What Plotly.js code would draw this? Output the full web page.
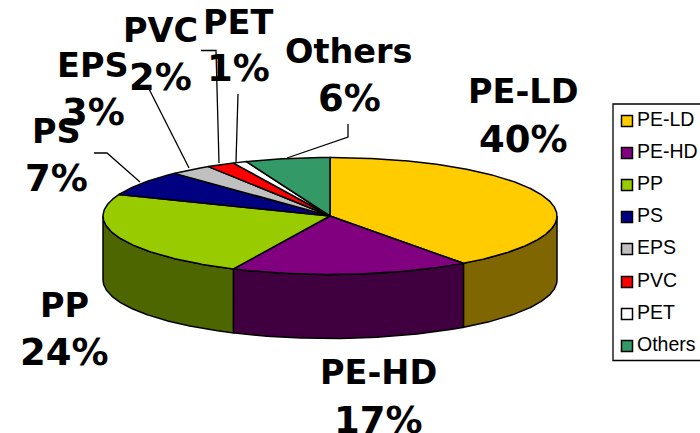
<!DOCTYPE html>
<html><head><meta charset="utf-8">
<script src="https://cdn.plot.ly/plotly-3.0.1.min.js"></script>
<style>html,body{margin:0;padding:0;background:#fff;overflow:hidden}#c{width:700px;height:433px}</style>
</head><body><div id="c"></div>
<script>
const categories = ['PE-LD','PE-HD','PP','PS','EPS','PVC','PET','Others'];
const values = [40,17,24,7,3,2,1,6];
const topColors = ['#FFCC00','#800080','#99CC00','#000080','#C0C0C0','#FF0000','#FFFFFF','#339966'];
const sideColors = ['#806600','#400040','#4D6600','#000040','#606060','#800000','#808080','#1A4D33'];
const labelX = [523,378,64,56,93,160,238,349];
const labelY1 = [91,372,305,131,65,30,22,51];
const labelY2 = [139,420,352,178,112,77,68,98];
const legendY = [121,153,185,217,249,282,314,346];
const leaders = [
  [[94,107,140],[153,153,182]],
  [[147,189],[85,168]],
  [[201,216,219],[50.5,50.5,163]],
  [[238,236],[94,162]],
  [[348,348,287],[124,137,158]]
];
const cx=330, cy=216, a=227, b=58.5, depth=64;
const px=(d)=>cx+a*Math.sin(d*Math.PI/180), py=(d,off)=>cy-b*Math.cos(d*Math.PI/180)+(off||0);
function arc(d0,d1,off){const xs=[],ys=[];const n=Math.max(2,Math.ceil(Math.abs(d1-d0)*2));
  for(let i=0;i<=n;i++){const d=d0+(d1-d0)*i/n;xs.push(px(d));ys.push(py(d,off));}return [xs,ys];}
const total=values.reduce((s,v)=>s+v,0);
const traces=[];let acc=0;const sides=[],tops=[];
values.forEach((v,i)=>{
  const d0=acc/total*360,d1=(acc+v)/total*360;acc+=v;
  const s0=Math.max(d0,90),s1=Math.min(d1,270);
  if(s1>s0){const [xt,yt]=arc(s0,s1,0);const [xb,yb]=arc(s1,s0,depth);
    sides.push({x:[...xt,...xb,xt[0]],y:[...yt,...yb,yt[0]],mode:'lines',fill:'toself',fillcolor:sideColors[i],
      line:{color:'#000',width:1.5},hoverinfo:'skip',showlegend:false});}
  const [xa,ya]=arc(d0,d1,0);
  tops.push({x:[cx,...xa,cx],y:[cy,...ya,cy],mode:'lines',fill:'toself',fillcolor:topColors[i],name:categories[i],
    line:{color:'#000',width:1.5},hoverinfo:'skip',showlegend:false});
});
traces.push(...sides,...tops);
leaders.forEach(l=>traces.push({x:l[0],y:l[1],mode:'lines',line:{color:'#000',width:1.3},hoverinfo:'skip',showlegend:false}));
traces.push({x:categories.map(()=>627),y:legendY,mode:'markers',
  marker:{symbol:'square',size:11,color:topColors,line:{color:'#000',width:1.5}},hoverinfo:'skip',showlegend:false});
traces.push({x:categories.map(()=>637),y:legendY,mode:'text',text:categories,textposition:'middle right',
  textfont:{family:'Liberation Sans, Arial, sans-serif',size:19.5,color:'#000'},hoverinfo:'skip',showlegend:false});
const lab='DejaVu Sans, sans-serif';
const annotations=[];
categories.forEach((c,i)=>{
  const common={xref:'x',yref:'y',x:labelX[i],showarrow:false,xanchor:'center',yanchor:'middle'};
  annotations.push({...common,y:labelY1[i],text:'<b>'+c+'</b>',font:{family:lab,size:33.5,color:'#000'}});
  annotations.push({...common,y:labelY2[i],text:'<b>'+values[i]+'%</b>',font:{family:lab,size:37,color:'#000'}});
});
const layout={width:700,height:433,margin:{l:0,r:0,t:0,b:0},paper_bgcolor:'#fff',plot_bgcolor:'#fff',showlegend:false,
  xaxis:{range:[0,700],visible:false,fixedrange:true},yaxis:{range:[433,0],visible:false,fixedrange:true},
  shapes:[{type:'rect',xref:'x',yref:'y',x0:613,x1:720,y0:104,y1:360.5,line:{color:'#000',width:1.3},fillcolor:'rgba(0,0,0,0)',layer:'below'}],
  annotations};
Plotly.newPlot('c',traces,layout,{displayModeBar:false,staticPlot:true});
</script></body></html>
